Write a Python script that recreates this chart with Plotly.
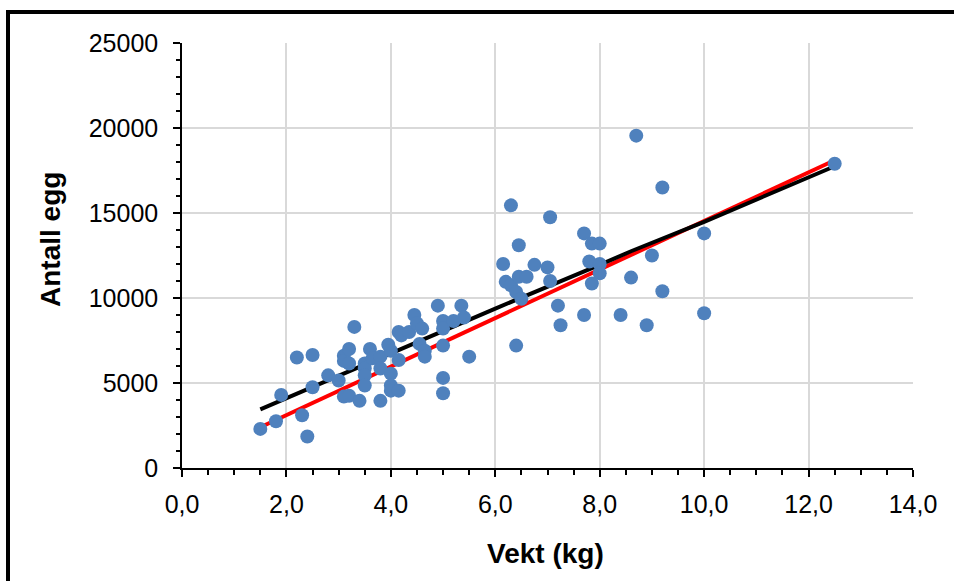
import plotly.graph_objects as go

# ---- data ----
vekt = [1.5, 1.8, 1.9, 2.2, 2.3, 2.4, 2.5, 2.5, 2.8, 3.0,
        3.1, 3.1, 3.2, 3.2, 3.1, 3.2, 3.3, 3.4, 3.5, 3.5,
        3.5, 3.5, 3.6, 3.65, 3.8, 3.8, 3.8, 3.95, 4.0, 4.0,
        4.0, 4.0, 4.15, 4.15, 4.15, 4.2, 4.35, 4.45, 4.5, 4.6,
        4.55, 4.65, 4.65, 4.9, 5.0, 5.0, 5.0, 5.0, 5.0, 5.2,
        5.35, 5.4, 5.5, 6.15, 6.2, 6.3, 6.4, 6.5, 6.45, 6.6,
        6.75, 7.0, 7.05, 6.3, 6.45, 7.05, 6.4, 7.2, 7.25, 7.7,
        7.85, 8.0, 7.8, 8.0, 8.0, 7.85, 7.7, 8.4, 8.6, 9.0,
        9.2, 8.9, 8.7, 9.2, 10.0, 10.0, 12.5]
egg = [2300, 2750, 4300, 6500, 3100, 1850, 6650, 4750, 5450, 5150,
       6600, 6300, 7000, 6150, 4200, 4250, 8300, 3950, 6150, 5850,
       5450, 4850, 7000, 6450, 6550, 5850, 3950, 7250, 6900, 5550,
       4850, 4550, 4550, 6350, 8000, 7800, 8000, 9000, 8500, 8200,
       7300, 6900, 6550, 9550, 8650, 8200, 7200, 5300, 4400, 8650,
       9550, 8850, 6550, 12000, 10950, 10750, 10350, 9950, 11250, 11250,
       11950, 11800, 11000, 15450, 13100, 14750, 7200, 9550, 8400, 13800,
       13200, 13200, 12150, 12000, 11450, 10850, 9000, 9000, 11200, 12500,
       10400, 8400, 19550, 16500, 13800, 9100, 17900]

# fitted lines
black_x = [1.5, 4.0, 6.0, 8.0, 8.6, 10.0, 12.5]
black_y = [3450, 6780, 9380, 11950, 12750, 14480, 17750]
red_x = [1.5, 12.5]
red_y = [2400, 18100]

x_tickvals = [0, 2, 4, 6, 8, 10, 12, 14]
x_ticktext = ["0,0", "2,0", "4,0", "6,0", "8,0", "10,0", "12,0", "14,0"]
y_tickvals = [0, 5000, 10000, 15000, 20000, 25000]
y_ticktext = ["0", "5000", "10000", "15000", "20000", "25000"]

x_title = "Vekt (kg)"
y_title = "Antall egg"

# ---- figure ----
W, H = 954, 581
ML, MR, MT, MB = 182, 41, 43, 113
PW, PH = W - ML - MR, H - MT - MB


def px_x(p):
    return (p - ML) / PW


def px_y(p):
    return (H - MB - p) / PH


fig = go.Figure()
fig.add_trace(go.Scatter(x=red_x, y=red_y, mode="lines",
                         line=dict(color="#FF0000", width=4),
                         hoverinfo="skip", showlegend=False))
fig.add_trace(go.Scatter(x=black_x, y=black_y, mode="lines",
                         line=dict(color="#000000", width=4),
                         hoverinfo="skip", showlegend=False))
fig.add_trace(go.Scatter(x=vekt, y=egg, mode="markers",
                         marker=dict(color="#4F81BD", size=14, line=dict(width=0)),
                         showlegend=False))

tick_font = dict(family="Liberation Sans, Arial, sans-serif", size=25, color="#000000")
title_font = dict(family="Liberation Sans, Arial, sans-serif", size=28, color="#000000")

fig.update_layout(
    width=W, height=H,
    margin=dict(l=ML, r=MR, t=MT, b=MB, pad=0),
    paper_bgcolor="white", plot_bgcolor="white",
    showlegend=False,
    xaxis=dict(
        range=[0, 14], tickmode="array", tickvals=x_tickvals, ticktext=x_ticktext,
        showgrid=True, gridcolor="#D9D9D9", gridwidth=2,
        zeroline=False, showline=True, linecolor="#000000", linewidth=1.5,
        ticks="outside", ticklen=7, tickwidth=1.5, tickcolor="#000000",
        minor=dict(dtick=0.5, tick0=0, ticks="outside", ticklen=5, tickwidth=1.5,
                   tickcolor="#000000", showgrid=False),
        tickfont=tick_font, ticklabelstandoff=6,
    ),
    yaxis=dict(
        range=[0, 25000], tickmode="array", tickvals=y_tickvals, ticktext=y_ticktext,
        showgrid=True, gridcolor="#D9D9D9", gridwidth=2,
        zeroline=False, showline=True, linecolor="#000000", linewidth=1.5,
        ticks="outside", ticklen=7, tickwidth=1.5, tickcolor="#000000",
        minor=dict(dtick=1000, tick0=0, ticks="outside", ticklen=4, tickwidth=1.5,
                   tickcolor="#000000", showgrid=False),
        tickfont=tick_font, ticklabelstandoff=10,
    ),
    annotations=[
        dict(text="<b>" + x_title + "</b>", xref="paper", yref="paper",
             x=px_x(545), y=px_y(553), xanchor="center", yanchor="middle",
             showarrow=False, font=title_font),
        dict(text="<b>" + y_title + "</b>", xref="paper", yref="paper",
             x=px_x(50), y=px_y(240), xanchor="center", yanchor="middle",
             textangle=-90, showarrow=False, font=title_font),
    ],
    shapes=[
        dict(type="rect", xref="paper", yref="paper",
             x0=px_x(8), x1=px_x(975), y0=px_y(600), y1=px_y(12),
             line=dict(color="#000000", width=4), fillcolor="rgba(0,0,0,0)",
             layer="above"),
    ],
)

fig.write_html("out.html")
